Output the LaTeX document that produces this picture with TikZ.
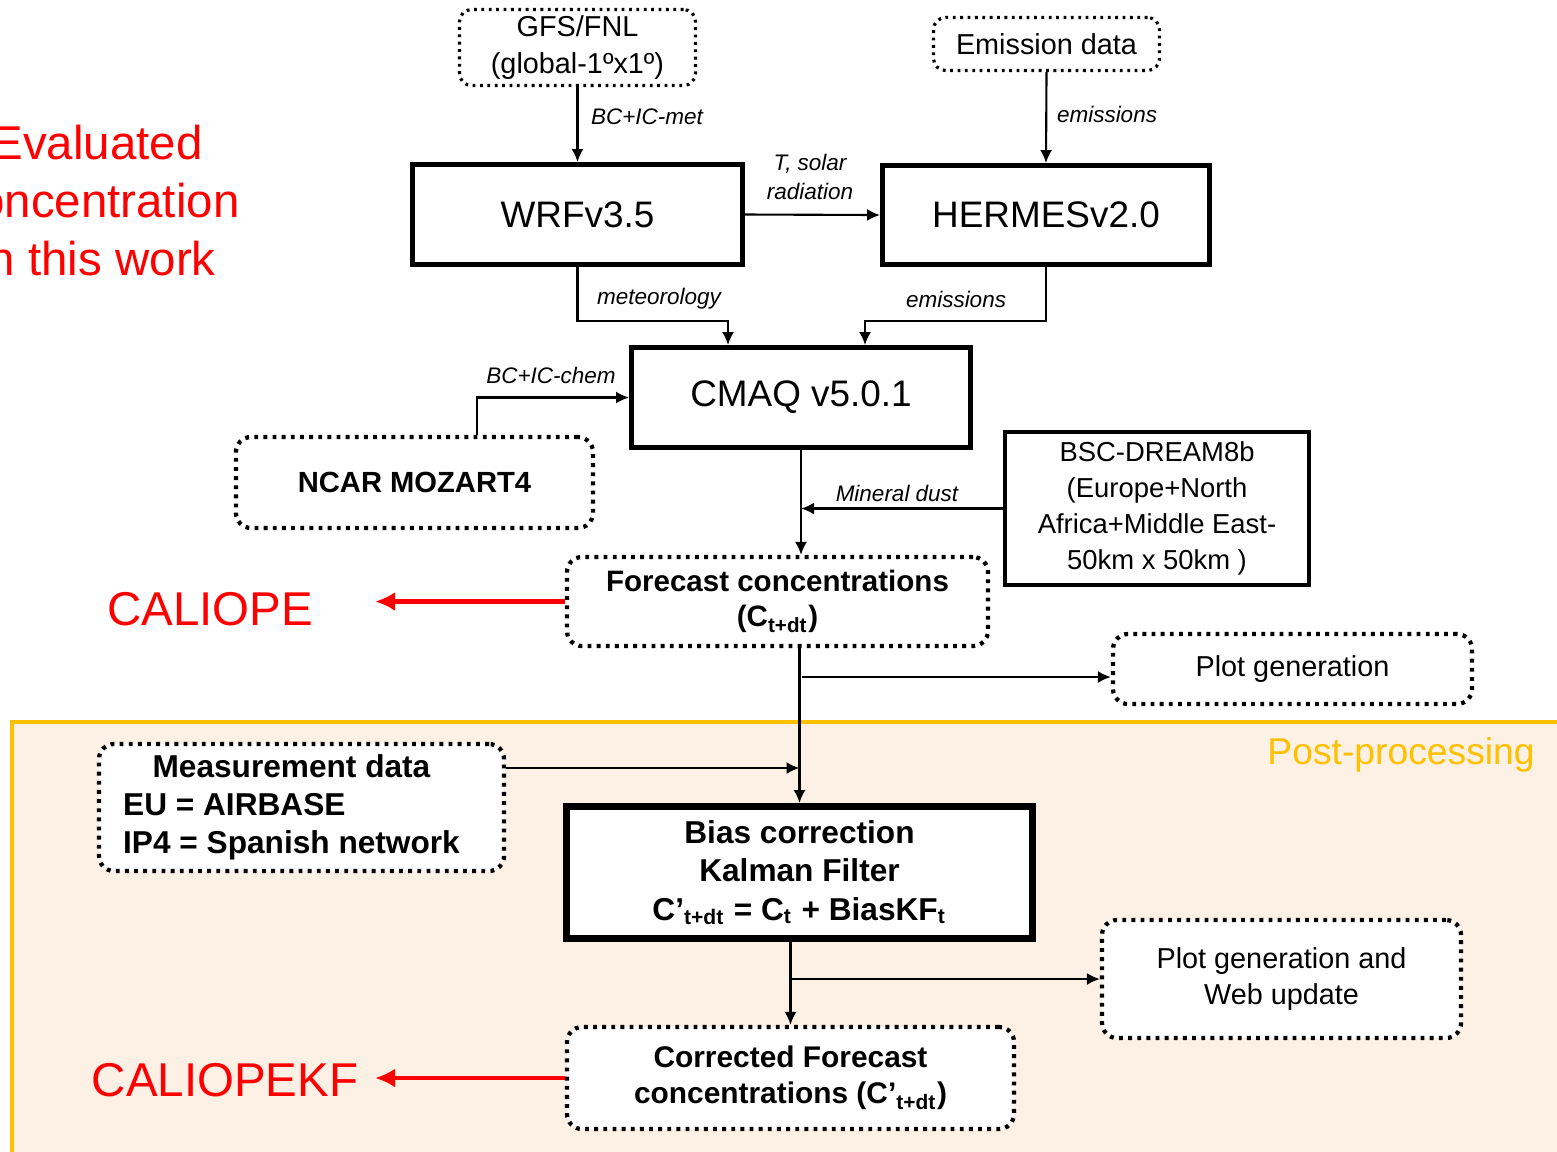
\documentclass[tikz,border=0pt]{standalone}
\usepackage{fontspec}
\setmainfont{Liberation Sans}
\usetikzlibrary{arrows.meta}
\definecolor{ppline}{HTML}{FFC000}
\definecolor{ppfill}{HTML}{FDF0E4}

\begin{document}
\begin{tikzpicture}[
    modelbox/.style={draw, line width=1.4pt, fill=white, inner sep=0pt, align=center,
        font=\fontsize{10.5}{12}\selectfont},
    topdot/.style={draw, line width=0.9pt, dash pattern=on 0.8pt off 1.3pt, rounded corners=1.2mm,
        inner sep=0pt, align=center, font=\fontsize{8.2}{10.5}\selectfont},
    dotbox/.style={draw, line width=1.2pt, dash pattern=on 1.1pt off 1.5pt, rounded corners=1.5mm,
        fill=white, inner sep=0pt, align=center},
    lbl/.style={font=\fontsize{6.4}{8}\selectfont\itshape, align=center},
    arr/.style={-{Latex[length=1.3mm,width=1.2mm]}, line width=0.6pt},
    redarr/.style={-{Latex[length=2mm,width=1.9mm]}, line width=1.2pt, red},
    bigred/.style={red, font=\fontsize{13.5}{16.5}\selectfont, align=center},
]
\useasboundingbox (0,0) rectangle (15.57,-11.51);
\clip (0,0) rectangle (15.57,-11.51);

\fill[ppfill] (0.12,-7.22) rectangle (15.8,-11.8);
\draw[ppline, line width=1.2pt] (15.8,-7.22) -- (0.12,-7.22) -- (0.12,-11.8);
\node[anchor=east, text=ppline, font=\fontsize{10.6}{12}\selectfont] (pplabel) at (15.47,-7.55) {Post-processing};

\node[bigred] (evaltxt) at (0.97,-2.01) {Evaluated\\concentration\\in this work};
\node[bigred] (caliope) at (2.10,-6.09) {CALIOPE};
\node[bigred] (caliopekf) at (2.25,-10.80) {CALIOPEKF};

\node[topdot, minimum width=2.36cm, minimum height=0.76cm] (gfs) at (5.775,-0.475) {GFS/FNL\\(global-1ºx1º)};
\node[topdot, minimum width=2.26cm, minimum height=0.53cm] (emis) at (10.465,-0.44) {Emission data};
\node[modelbox, minimum width=3.30cm, minimum height=1.00cm] (wrf) at (5.775,-2.145) {WRFv3.5};
\node[modelbox, minimum width=3.27cm, minimum height=0.99cm] (hermes) at (10.46,-2.15) {HERMESv2.0};
\node[modelbox, minimum width=3.39cm, minimum height=1.00cm] (cmaq) at (8.01,-3.975) {CMAQ v5.0.1};
\node[dotbox, minimum width=3.57cm, minimum height=0.91cm, font=\fontsize{8.3}{10}\selectfont\bfseries] (ncar) at (4.145,-4.825) {NCAR MOZART4};
\node[modelbox, line width=1.2pt, minimum width=3.04cm, minimum height=1.53cm, font=\fontsize{7.8}{10.2}\selectfont] (bsc) at (11.57,-5.085) {BSC-DREAM8b\\(Europe+North\\Africa+Middle East-\\50km x 50km )};
\node[dotbox, minimum width=4.21cm, minimum height=0.89cm, font=\fontsize{8.4}{10}\selectfont\bfseries] (fc) at (7.775,-6.015) {Forecast concentrations\\(C\textsubscript{t+dt})};
\node[dotbox, minimum width=3.59cm, minimum height=0.70cm, font=\fontsize{8.2}{10}\selectfont] (plot) at (12.925,-6.69) {Plot generation};
\node[dotbox, minimum width=4.05cm, minimum height=1.27cm, font=\fontsize{9}{10.8}\selectfont\bfseries] (meas) at (3.015,-8.075) {\hspace{-2mm}\begin{tabular}{@{}l@{}}\multicolumn{1}{@{}c@{}}{Measurement data}\\EU = AIRBASE\\IP4 = Spanish network\end{tabular}};
\node[modelbox, line width=2pt, minimum width=4.66cm, minimum height=1.32cm, font=\fontsize{9}{11}\selectfont\bfseries] (bias) at (7.995,-8.725) {Bias correction\\Kalman Filter\\C’\textsubscript{t+dt} = C\textsubscript{t} + BiasKF\textsubscript{t}};
\node[dotbox, minimum width=3.59cm, minimum height=1.18cm, font=\fontsize{8.2}{10.2}\selectfont] (web) at (12.815,-9.79) {Plot generation and\\Web update};
\node[dotbox, minimum width=4.47cm, minimum height=1.02cm, font=\fontsize{8.5}{10.2}\selectfont\bfseries] (corr) at (7.905,-10.78) {Corrected Forecast\\concentrations (C’\textsubscript{t+dt})};

\node[lbl] (lmet) at (6.47,-1.17) {BC+IC-met};
\node[lbl] (lemis) at (11.07,-1.14) {emissions};
\node[lbl] (lsolar) at (8.10,-1.77) {T, solar\\radiation};
\node[lbl] (lmeteo) at (6.59,-2.99) {meteorology};
\node[lbl] (lemis2) at (9.56,-2.99) {emissions};
\node[lbl] (lchem) at (5.51,-3.75) {BC+IC-chem};
\node[lbl] (ldust) at (8.97,-4.93) {Mineral dust};

\draw[arr] (gfs.south) -- (wrf.north);
\draw[arr] (emis.south) -- (hermes.north);
\draw[arr] (wrf.east) -- (hermes.west);
\draw[arr] (wrf.south) -- ++(0,-0.54) -| ([xshift=-7.3mm]cmaq.north);
\draw[arr] (hermes.south) -- ++(0,-0.54) -| ([xshift=6.4mm]cmaq.north);
\draw[arr] ([xshift=6.25mm]ncar.north) |- (cmaq.west);
\draw[arr] (cmaq.south) -- (cmaq.south |- fc.north);
\draw[arr] (bsc.west) -- (bsc.west -| cmaq.south);

\coordinate (calarr) at (3.75,-6.015);
\coordinate (kfarr) at (3.75,-10.78);
\draw[redarr] (fc.west) -- (calarr);
\draw[redarr] (corr.west) -- (kfarr);

\draw[arr] (fc.south -| bias.north) -- (bias.north);
\coordinate (fcplot) at (8.02,-6.77);
\draw[arr] (fcplot) -- (fcplot -| plot.west);
\path ([yshift=3.95mm]meas.east) coordinate (measout);
\draw[arr] (measout) -- (measout -| bias.north);

\draw[arr] (corr.north |- bias.south) -- (corr.north);
\draw[arr] (web.west -| corr.north) -- (web.west);
\end{tikzpicture}
\end{document}
